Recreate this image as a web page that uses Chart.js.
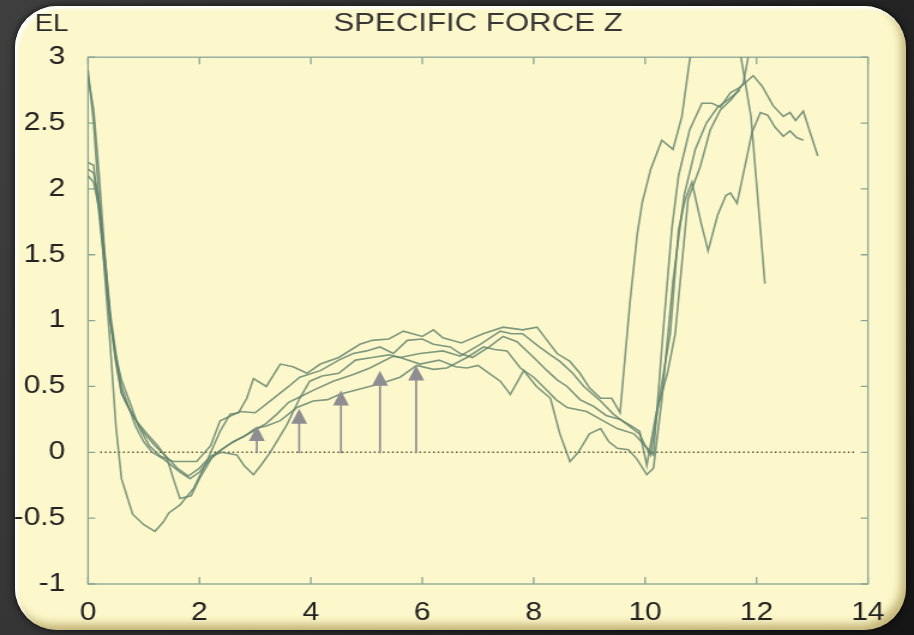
<!DOCTYPE html>
<html lang="en">
<head>
<meta charset="UTF-8">
<title>Specific Force Z</title>
<script src="https://cdn.jsdelivr.net/npm/chart.js@4.4.1/dist/chart.umd.min.js"></script>
<style>
    html, body { margin: 0; padding: 0; width: 914px; height: 635px; overflow: hidden; }
    body {
        position: relative;
        background: linear-gradient(120deg, #3f3f3f 0%, #2c2c2c 55%, #151515 100%);
        font-family: "Liberation Sans", Arial, sans-serif;
    }
    #panel {
        position: absolute;
        left: 15px; top: 6px;
        width: 891px; height: 624px;
        border-radius: 42px;
        background: #fdf8cb;
        box-shadow: inset 3px 3px 3px rgba(255,255,255,0.95),
                    inset -5px -6px 9px rgba(150,128,55,0.55),
                    0 0 7px rgba(0,0,0,0.8);
    }
    #chart {
        position: absolute; left: 0; top: 0;
        transform-origin: 0 0;
        transform: scaleX(1.19948);
    }
</style>
</head>
<body>
<div id="panel"></div>
<canvas id="chart" width="762" height="635"></canvas>

<script>
// axis ticks
const xTicks = [0, 2, 4, 6, 8, 10, 12, 14];
const yTicks = [-1, -0.5, 0, 0.5, 1, 1.5, 2, 2.5, 3];

// five runs
const x1 = [0,0.1,0.2,0.3,0.4,0.5,0.6,0.8,1.0,1.2,1.35,1.45,1.65,1.9,2.13,2.37,2.55,2.7,2.85,2.97,3.2,3.45,3.68,3.93,4.17,4.5,4.88,5.1,5.4,5.66,6.0,6.2,6.37,6.7,7.09,7.45,7.8,8.06,8.24,8.42,8.65,8.83,9.0,9.2,9.4,9.55,9.73,9.86,9.95,10.1,10.3,10.5,10.66,10.8,11.0,11.5,11.7,11.9,12.07,12.15];
const y1 = [2.9,2.5,1.9,1.35,0.8,0.2,-0.2,-0.47,-0.55,-0.6,-0.53,-0.46,-0.4,-0.27,-0.07,0.16,0.29,0.3,0.41,0.56,0.5,0.67,0.65,0.6,0.67,0.72,0.82,0.85,0.86,0.92,0.88,0.93,0.87,0.83,0.9,0.95,0.93,0.95,0.85,0.75,0.69,0.6,0.49,0.41,0.41,0.3,1.15,1.66,1.9,2.15,2.37,2.3,2.55,2.98,3.4,3.4,3.05,2.55,1.69,1.28];

const x2 = [0,0.1,0.2,0.3,0.4,0.5,0.6,0.75,0.9,1.06,1.25,1.42,1.53,1.65,1.85,2.0,2.25,2.5,2.7,2.96,3.2,3.39,3.6,3.8,4.04,4.4,4.76,5.06,5.48,5.6,5.96,6.37,6.68,7.04,7.4,7.6,7.8,8.1,8.3,8.47,8.7,8.9,9.2,9.43,9.65,9.9,10.0,10.15,10.32,10.48,10.6,10.8,11.02,11.2,11.35,11.53,11.7,11.94,12.1,12.3,12.48,12.6,12.7,12.84,12.93,13.1];
const y2 = [2.85,2.6,2.1,1.5,1.0,0.7,0.45,0.32,0.22,0.14,0.05,-0.05,-0.2,-0.35,-0.33,-0.2,-0.02,0.05,0.1,0.16,0.22,0.29,0.38,0.42,0.47,0.54,0.59,0.64,0.73,0.72,0.75,0.77,0.73,0.82,0.92,0.9,0.9,0.8,0.74,0.69,0.6,0.5,0.39,0.29,0.22,0.14,0.05,-0.02,0.9,1.7,2.1,2.45,2.65,2.65,2.62,2.73,2.77,2.86,2.78,2.63,2.55,2.58,2.52,2.59,2.47,2.25];

const x3 = [0,0.1,0.2,0.3,0.4,0.5,0.6,0.7,0.85,1.0,1.15,1.35,1.5,1.65,1.83,2.0,2.2,2.4,2.6,2.8,3.0,3.2,3.45,3.75,4.04,4.3,4.52,4.88,5.24,5.6,5.9,6.2,6.44,6.8,7.1,7.3,7.52,7.76,8.0,8.24,8.4,8.6,8.95,9.2,9.5,9.8,10.0,10.1,10.25,10.45,10.6,10.72,10.84,11.0,11.13,11.3,11.45,11.53,11.65,11.78,11.92,12.07,12.2,12.33,12.48,12.6,12.72,12.84];
const y3 = [2.15,2.12,1.9,1.5,1.05,0.75,0.5,0.38,0.2,0.08,0.0,-0.05,-0.1,-0.15,-0.2,-0.15,-0.05,0.02,0.08,0.12,0.18,0.2,0.24,0.34,0.39,0.4,0.44,0.48,0.52,0.57,0.66,0.63,0.64,0.72,0.8,0.78,0.77,0.64,0.57,0.47,0.4,0.34,0.31,0.25,0.18,0.14,0.05,-0.02,0.4,0.9,1.69,1.92,2.05,1.75,1.53,1.8,1.95,1.97,1.89,2.15,2.43,2.58,2.56,2.47,2.4,2.44,2.39,2.37];

const x4 = [0,0.1,0.2,0.3,0.4,0.5,0.6,0.75,0.9,1.1,1.3,1.53,1.75,1.95,2.2,2.37,2.73,3.0,3.3,3.6,3.8,4.17,4.5,4.76,5.0,5.24,5.48,5.73,6.0,6.2,6.5,6.68,6.9,7.2,7.45,7.7,8.0,8.24,8.42,8.6,8.83,9.07,9.3,9.55,9.75,9.9,10.03,10.2,10.4,10.54,10.77,10.99,11.17,11.35,11.55,11.76,11.85,11.95];
const y4 = [2.2,2.18,1.8,1.4,1.0,0.72,0.55,0.38,0.2,0.05,-0.03,-0.07,-0.07,-0.07,0.05,0.24,0.31,0.3,0.4,0.5,0.57,0.62,0.7,0.75,0.77,0.8,0.75,0.85,0.86,0.82,0.8,0.75,0.72,0.8,0.88,0.84,0.72,0.62,0.55,0.5,0.4,0.35,0.28,0.25,0.2,0.16,-0.1,0.3,0.6,0.9,1.92,2.17,2.45,2.6,2.68,2.8,3.0,3.3];

const x5 = [0,0.1,0.2,0.3,0.4,0.5,0.6,0.7,0.85,1.0,1.2,1.4,1.6,1.8,2.0,2.2,2.4,2.67,2.8,2.97,3.1,3.27,3.57,3.8,3.98,4.2,4.5,4.8,5.1,5.4,5.6,5.96,6.3,6.6,6.8,7.0,7.2,7.4,7.58,7.82,8.05,8.3,8.47,8.65,8.8,9.0,9.2,9.35,9.5,9.7,9.85,10.03,10.15,10.3,10.5,10.7,10.9,11.1,11.3,11.5,11.7];
const y5 = [2.1,2.05,1.85,1.45,1.0,0.68,0.45,0.36,0.25,0.15,0.05,-0.03,-0.12,-0.18,-0.12,-0.03,0.0,-0.02,-0.1,-0.17,-0.1,0.0,0.21,0.41,0.54,0.58,0.6,0.7,0.72,0.74,0.72,0.67,0.7,0.65,0.64,0.66,0.6,0.54,0.44,0.62,0.5,0.41,0.14,-0.07,0.0,0.14,0.18,0.08,0.03,0.02,-0.05,-0.17,-0.12,0.4,1.3,1.95,2.3,2.5,2.62,2.68,2.75];

// dotted zero reference
const zeroX = [0.22, 13.8];
const zeroY = [0, 0];

// grey arrows: position and tip height
const arrowX = [3.03, 3.79, 4.54, 5.24, 5.89];
const arrowTip = [0.2, 0.33, 0.47, 0.62, 0.66];

const SX = 914 / 762;   // horizontal stretch of the canvas
const FONT = '"Liberation Sans", Arial, Helvetica, sans-serif';

function pts(xs, ys) {
    return xs.map((x, i) => ({ x: x, y: ys[i] }));
}

function run(xs, ys) {
    return {
        data: pts(xs, ys),
        borderColor: 'rgba(98,130,110,0.82)',
        borderWidth: 1.6,
        pointRadius: 0,
        tension: 0,
        fill: false
    };
}

const extras = {
    id: 'extras',
    beforeDatasetsDraw(chart) {
        const { ctx, chartArea: a, scales: { x, y } } = chart;
        ctx.save();
        ctx.strokeStyle = '#88a597';
        ctx.lineWidth = 1.3;
        ctx.strokeRect(a.left, a.top, a.right - a.left, a.bottom - a.top);
        ctx.beginPath();
        xTicks.forEach(v => {
            const px = x.getPixelForValue(v);
            ctx.moveTo(px, a.bottom); ctx.lineTo(px, a.bottom - 7);
            ctx.moveTo(px, a.top); ctx.lineTo(px, a.top + 7);
        });
        yTicks.forEach(v => {
            const py = y.getPixelForValue(v);
            ctx.moveTo(a.left, py); ctx.lineTo(a.left + 6, py);
            ctx.moveTo(a.right, py); ctx.lineTo(a.right - 6, py);
        });
        ctx.stroke();
        ctx.restore();
    },
    afterDatasetsDraw(chart) {
        const { ctx, scales: { x, y } } = chart;
        const half = 8 / SX, head = 15;
        ctx.save();
        ctx.fillStyle = '#8d8d92';
        ctx.strokeStyle = '#8d8d92';
        ctx.lineWidth = 2 / SX;
        arrowX.forEach((v, i) => {
            const px = x.getPixelForValue(v);
            const base = y.getPixelForValue(0);
            const tip = y.getPixelForValue(arrowTip[i]);
            ctx.beginPath();
            ctx.moveTo(px, base + 1);
            ctx.lineTo(px, tip + head - 1);
            ctx.stroke();
            ctx.beginPath();
            ctx.moveTo(px, tip);
            ctx.lineTo(px + half, tip + head);
            ctx.lineTo(px - half, tip + head);
            ctx.closePath();
            ctx.fill();
        });
        ctx.restore();
    },
    afterDraw(chart) {
        const ctx = chart.ctx;
        ctx.save();
        ctx.font = '23px ' + FONT;
        ctx.fillStyle = '#2a2a2a';
        ctx.textBaseline = 'middle';
        ctx.textAlign = 'left';
        ctx.fillText('EL', 29, 25);
        ctx.restore();
    }
};

new Chart(document.getElementById('chart'), {
    type: 'line',
    data: {
        datasets: [
            run(x1, y1), run(x2, y2), run(x3, y3), run(x4, y4), run(x5, y5),
            {
                data: pts(zeroX, zeroY),
                borderColor: '#4f4f35',
                borderWidth: 1.4,
                borderDash: [1.4, 2.4],
                pointRadius: 0,
                fill: false
            }
        ]
    },
    options: {
        responsive: false,
        maintainAspectRatio: false,
        devicePixelRatio: 1,
        animation: false,
        layout: { padding: { left: 10, right: 38.4, top: 0, bottom: 0 } },
        plugins: {
            legend: { display: false },
            tooltip: { enabled: false },
            title: {
                display: true,
                fullSize: false,
                text: 'SPECIFIC FORCE Z',
                color: '#363636',
                font: { family: FONT, size: 26, weight: 'normal' },
                padding: { top: 8, bottom: 18 }
            }
        },
        scales: {
            x: {
                type: 'linear',
                min: 0, max: 14,
                grid: { display: false },
                border: { display: false },
                afterBuildTicks: s => { s.ticks = xTicks.map(v => ({ value: v })); },
                afterFit: s => { s.height = 51; },
                ticks: { padding: 6, color: '#222', font: { family: FONT, size: 25 }, callback: v => String(v) }
            },
            y: {
                type: 'linear',
                min: -1, max: 3,
                grid: { display: false },
                border: { display: false },
                afterBuildTicks: s => { s.ticks = yTicks.map(v => ({ value: v })); },
                afterFit: s => { s.width = 63.4; },
                ticks: { padding: 11, color: '#222', font: { family: FONT, size: 25 }, callback: v => String(v) }
            }
        }
    },
    plugins: [extras]
});
</script>
</body>
</html>
